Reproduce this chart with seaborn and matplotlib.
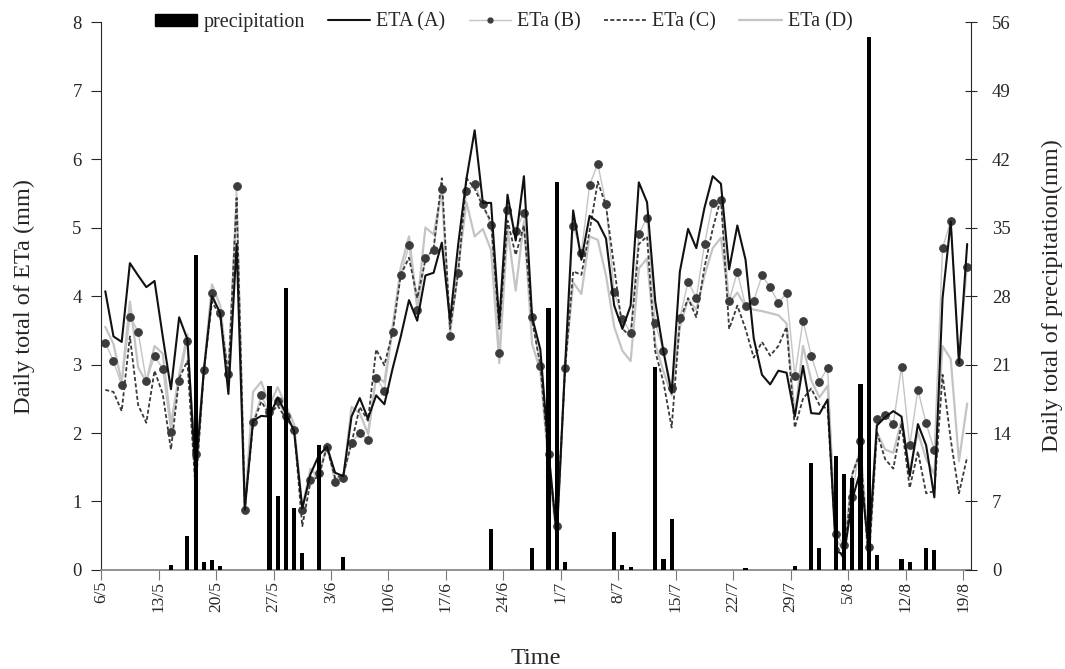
import numpy as np
import pandas as pd
import matplotlib
matplotlib.use("Agg")
import matplotlib.pyplot as plt
from matplotlib.patches import Patch
from matplotlib.lines import Line2D
import seaborn as sns

# tick labels, one every 7 days starting 6/5
tick_labels = ["6/5", "13/5", "20/5", "27/5", "3/6", "10/6", "17/6", "24/6",
               "1/7", "8/7", "15/7", "22/7", "29/7", "5/8", "12/8", "19/8"]

# daily precipitation (mm), 6/5 .. 19/8
precipitation = [0, 0, 0, 0, 0, 0, 0, 0, 0.47, 0, 3.45, 32.2, 0.78, 1.06, 0.39, 0,
                 0, 0, 0, 0, 18.8, 7.6, 28.8, 6.3, 1.76, 0, 12.8, 0, 0, 1.37, 0, 0,
                 0, 0, 0, 0, 0, 0, 0, 0, 0, 0, 0, 0, 0, 0, 0, 4.23, 0, 0,
                 0, 0, 2.27, 0, 26.8, 39.7, 0.78, 0, 0, 0, 0, 0, 3.84, 0.47, 0.31, 0,
                 0, 20.7, 1.1, 5.25, 0, 0, 0, 0, 0, 0, 0, 0, 0.16, 0, 0, 0,
                 0, 0, 0.39, 0, 10.9, 2.27, 0, 11.7, 9.8, 9.4, 19.0, 54.5, 1.5, 0, 0, 1.17,
                 0.86, 0, 2.2, 2.04, 0, 0, 0, 0]

eta_a = [4.07, 3.41, 3.33, 4.48, 4.30, 4.13, 4.22, 3.41, 2.64, 3.69, 3.37, 1.40, 2.90, 4.00, 3.75, 2.57,
         4.76, 0.88, 2.18, 2.25, 2.24, 2.52, 2.29, 2.03, 0.90, 1.40, 1.67, 1.80, 1.42, 1.37, 2.24, 2.51,
         2.21, 2.55, 2.42, 2.94, 3.41, 3.94, 3.64, 4.30, 4.34, 4.78, 3.64, 4.76, 5.71, 6.42, 5.36, 5.36,
         3.61, 5.48, 4.81, 5.75, 3.69, 3.22, 1.73, 0.50, 2.94, 5.25, 4.53, 5.17, 5.08, 4.84, 3.86, 3.52,
         3.86, 5.66, 5.37, 3.92, 3.19, 2.58, 4.36, 4.98, 4.70, 5.29, 5.75, 5.64, 4.39, 5.03, 4.53, 3.38,
         2.85, 2.71, 2.91, 2.88, 2.24, 2.98, 2.29, 2.28, 2.49, 0.28, 0.22, 1.03, 1.45, 0.30, 2.11, 2.23,
         2.32, 2.24, 1.37, 2.13, 1.82, 1.06, 3.97, 5.09, 3.02, 4.76]

eta_b = [3.32, 3.05, 2.70, 3.70, 3.48, 2.76, 3.12, 2.94, 2.01, 2.76, 3.35, 1.69, 2.92, 4.04, 3.75, 2.86,
         5.61, 0.88, 2.16, 2.55, 2.30, 2.47, 2.25, 2.05, 0.87, 1.31, 1.41, 1.80, 1.28, 1.35, 1.86, 2.00,
         1.90, 2.80, 2.62, 3.48, 4.30, 4.74, 3.79, 4.55, 4.67, 5.57, 3.41, 4.33, 5.53, 5.63, 5.34, 5.03,
         3.17, 5.25, 4.95, 5.21, 3.69, 2.98, 1.69, 0.64, 2.95, 5.02, 4.63, 5.62, 5.93, 5.34, 4.06, 3.67,
         3.46, 4.91, 5.14, 3.60, 3.20, 2.66, 3.68, 4.21, 3.97, 4.76, 5.36, 5.40, 3.93, 4.35, 3.86, 3.93,
         4.30, 4.13, 3.90, 4.04, 2.83, 3.64, 3.13, 2.75, 2.95, 0.53, 0.36, 1.07, 1.89, 0.34, 2.21, 2.27,
         2.13, 2.97, 1.82, 2.63, 2.14, 1.75, 4.70, 5.10, 3.03, 4.42]

eta_c = [2.63, 2.60, 2.32, 3.41, 2.41, 2.15, 2.91, 2.57, 1.76, 2.80, 3.05, 1.17, 2.90, 3.92, 3.70, 2.85,
         5.43, 0.90, 2.13, 2.46, 2.27, 2.40, 2.21, 2.07, 0.64, 1.29, 1.37, 1.79, 1.34, 1.40, 1.85, 2.38,
         2.18, 3.22, 2.99, 3.47, 4.31, 4.56, 3.97, 4.53, 4.70, 5.72, 3.52, 4.35, 5.72, 5.57, 5.31, 5.09,
         3.52, 5.10, 4.60, 5.03, 3.64, 2.99, 1.62, 0.56, 2.91, 4.36, 4.31, 4.95, 5.67, 5.32, 4.42, 3.52,
         3.41, 4.76, 4.87, 3.19, 2.74, 2.08, 3.64, 3.97, 3.69, 4.42, 4.98, 5.43, 3.52, 3.86, 3.52, 3.10,
         3.33, 3.13, 3.27, 3.55, 2.08, 2.50, 2.65, 2.41, 2.35, 0.39, 0.14, 1.40, 1.73, 0.11, 2.01, 1.62,
         1.48, 2.13, 1.20, 1.73, 1.12, 1.15, 2.85, 1.90, 1.12, 1.65]

eta_d = [3.55, 3.30, 2.74, 3.92, 2.96, 2.74, 3.27, 3.16, 2.13, 2.85, 3.44, 1.23, 2.90, 4.17, 3.86, 2.80,
         5.43, 0.92, 2.60, 2.75, 2.40, 2.67, 2.40, 2.13, 0.90, 1.48, 1.34, 1.85, 1.34, 1.34, 2.38, 2.29,
         1.99, 2.83, 2.74, 3.55, 4.42, 4.87, 3.86, 5.00, 4.90, 5.54, 3.50, 4.42, 5.37, 4.87, 4.98, 4.67,
         3.02, 4.98, 4.08, 5.09, 3.30, 2.91, 1.54, 0.45, 2.97, 4.20, 4.03, 4.87, 4.82, 4.30, 3.55, 3.20,
         3.05, 4.40, 4.55, 3.30, 2.90, 2.55, 3.55, 3.95, 3.80, 4.30, 4.70, 4.85, 3.90, 4.05, 3.85, 3.80,
         3.78, 3.75, 3.72, 3.60, 2.25, 3.27, 2.77, 2.52, 2.69, 0.45, 0.28, 1.40, 1.73, 0.11, 2.01, 1.76,
         1.71, 2.18, 1.45, 2.01, 1.62, 1.40, 3.27, 3.08, 1.59, 2.43]

sns.set_style("ticks")
plt.rcParams['font.family'] = ['Liberation Serif', 'DejaVu Serif']

# one category per day, points at the category centre
df = pd.DataFrame({
    "day": np.arange(len(eta_a)) + 0.5,
    "A": eta_a, "B": eta_b, "C": eta_c, "D": eta_d,
    "precip": precipitation,
})

dash_c = (0, (2.2, 1.3))

fig, ax = plt.subplots(figsize=(10.65, 6.69), dpi=100)
fig.subplots_adjust(left=0.095, right=0.912, bottom=0.148, top=0.967)

sns.lineplot(data=df, x="day", y="D", ax=ax, color="#c4c4c4", lw=1.6)
sns.lineplot(data=df, x="day", y="B", ax=ax, color="#c4c4c4", lw=1.0,
             marker="o", markersize=5.5, markerfacecolor="#3c3c3c", markeredgecolor="#3c3c3c")
sns.lineplot(data=df, x="day", y="C", ax=ax, color="#3a3a3a", lw=1.3, linestyle=dash_c)
sns.lineplot(data=df, x="day", y="A", ax=ax, color="#111111", lw=1.5)

ax.set_xlim(0, 106)
ax.set_ylim(0, 8)
ax.set_yticks(range(0, 9))
ax.set_xticks(range(0, 106, 7))
ax.set_xticklabels(tick_labels, rotation=90, fontsize=12.5)
ax.tick_params(axis="y", labelsize=13.5, length=7, width=0.8, pad=7)
ax.tick_params(axis="x", length=7, width=0.8, color="#777777", pad=1)
ax.set_xlabel("Time", fontsize=17.5, labelpad=26)
ax.set_ylabel("Daily total of ETa (mm)", fontsize=17.5, labelpad=27)
ax.spines["top"].set_visible(False)
ax.spines["right"].set_visible(False)
ax.spines["bottom"].set_color("#8a8a8a")
ax.spines["bottom"].set_linewidth(1.3)
ax.spines["left"].set_linewidth(0.8)

# precipitation on secondary axis
ax2 = ax.twinx()
ax2.bar(df["day"], df["precip"], width=0.5, color="black", linewidth=0)
ax2.set_ylim(0, 56)
ax2.set_yticks(range(0, 57, 7))
ax2.tick_params(axis="y", labelsize=13.5, length=8, width=0.8, direction="inout", pad=11)
ax2.set_ylabel("Daily total of precipitation(mm)", fontsize=17.5, labelpad=22)
ax2.spines["top"].set_visible(False)
ax2.spines["left"].set_visible(False)
ax2.spines["bottom"].set_visible(False)
ax2.spines["right"].set_linewidth(0.8)

handles = [
    Patch(facecolor="black", edgecolor="black"),
    Line2D([], [], color="#111111", lw=1.5),
    Line2D([], [], color="#c4c4c4", lw=1.0, marker="o", markersize=3.5,
           markerfacecolor="#3c3c3c", markeredgecolor="#3c3c3c"),
    Line2D([], [], color="#3a3a3a", lw=1.3, linestyle=dash_c),
    Line2D([], [], color="#c4c4c4", lw=1.6),
]
labels = ["precipitation", "ETA (A)", "ETa (B)", "ETa (C)", "ETa (D)"]
fig.legend(handles, labels, loc="center", bbox_to_anchor=(0.473, 0.967), ncol=5,
           frameon=False, fontsize=14.5, handlelength=2.1, handleheight=0.55,
           columnspacing=1.15, handletextpad=0.3)

plt.savefig("out.png", dpi=100)
